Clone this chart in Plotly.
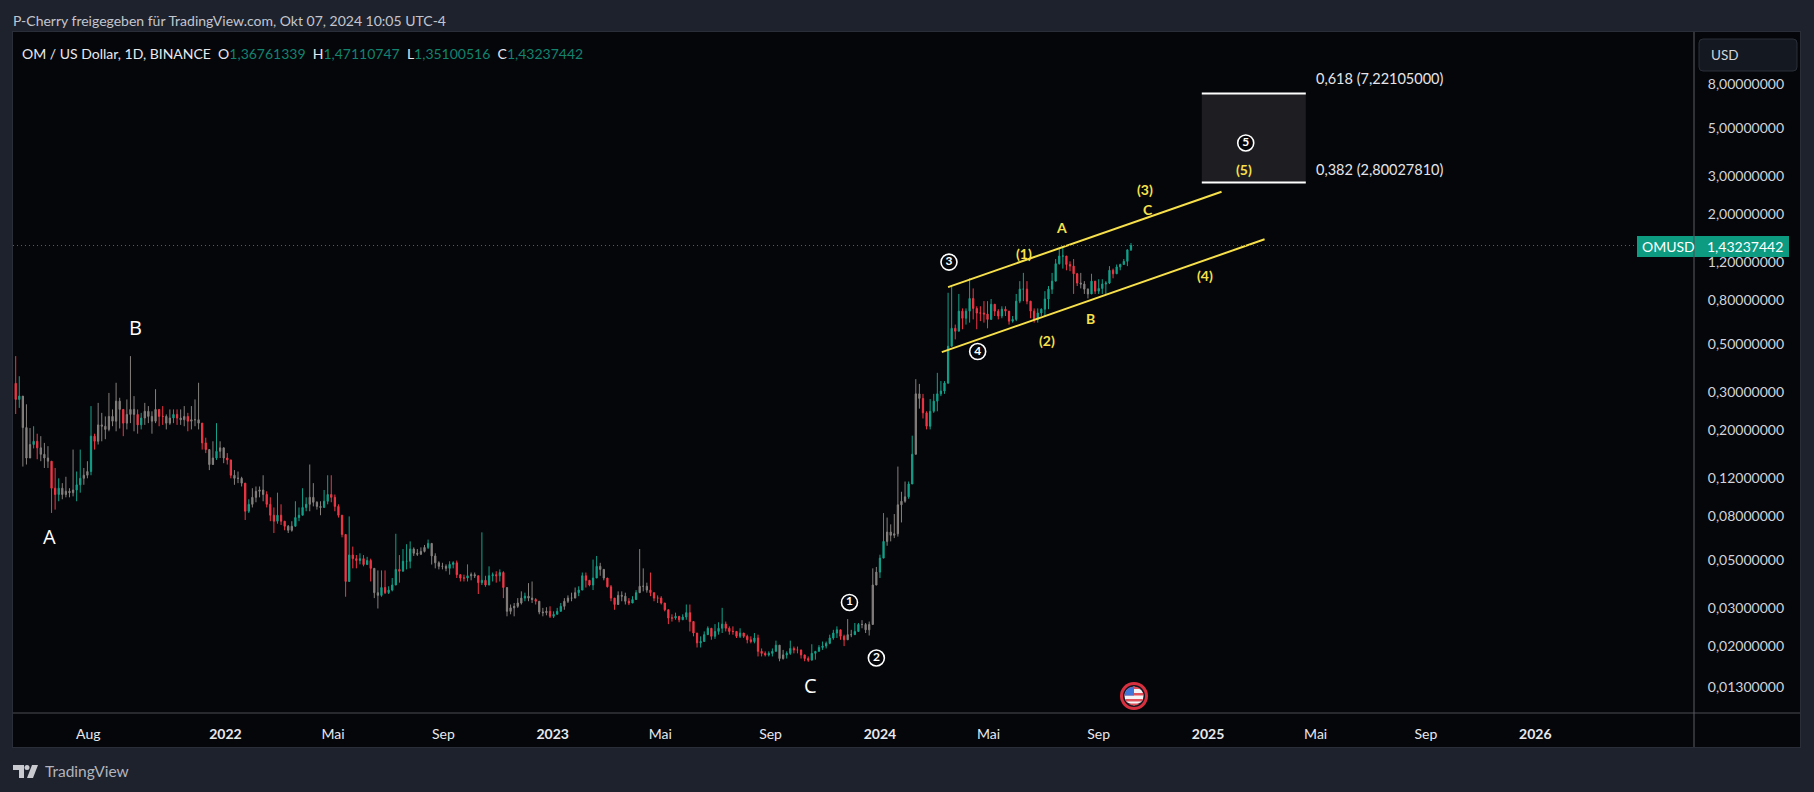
import math
import pandas as pd
import plotly.graph_objects as go

# ---------- data (4-day sampling of the daily series) ----------
highs = [
 .441,.356,.273,.264,.205,.209,.193,.188,.175,.169,
 .138,.134,.120,.114,.122,.108,.163,.129,.163,.134,
 .144,.259,.193,.268,.241,.232,.298,.25,.332,.283,
 .25,.278,.441,.288,.25,.241,.268,.259,.245,.31,
 .25,.259,.237,.25,.25,.25,.25,.259,.241,.259,
 .278,.332,.209,.185,.160,.178,.216,.178,.166,.157,
 .139,.131,.129,.122,.112,.096,.108,.110,.110,.124,
 .1045,.098,.088,.103,.091,.076,.073,.076,.094,.088,
 .108,.098,.139,.114,.094,.094,.106,.124,.124,.101,
 .091,.080,.064,.080,.058,.053,.054,.053,.052,.051,
 .0405,.045,.045,.045,.038,.0415,.0665,.053,.0565,.0595,
 .0613,.0575,.0565,.0575,.059,.0625,.059,.054,.0496,.0488,
 .048,.0496,.0496,.05,.043,.043,.048,.044,.044,.0425,
 .0675,.0425,.047,.044,.0446,.0455,.0446,.0342,.0313,.0318,
 .0335,.036,.0355,.0393,.04,.0335,.0324,.0302,.0304,.0307,
 .0291,.0302,.0318,.0335,.0345,.0355,.0375,.038,.044,.044,
 .0405,.0505,.0525,.0488,.0455,.0415,.0385,.0324,.036,.036,
 .0355,.0335,.0342,.0365,.0565,.046,.0395,.044,.0355,.0345,
 .0342,.0318,.0296,.0282,.0287,.0276,.0282,.0313,.0313,.0254,
 .0231,.0223,.0235,.0248,.0243,.0254,.0259,.0302,.0261,.0248,
 .0248,.0235,.0243,.0231,.0227,.0223,.0231,.0227,.0196,.019,
 .019,.0196,.0213,.0193,.0193,.019,.0213,.02,.02,.0186,
 .0183,.018,.0205,.0186,.0203,.0211,.0211,.0227,.0239,.0248,
 .0235,.0227,.0268,.0239,.0257,.0257,.0265,.0257,.0261,.046,
 .0467,.0532,.0829,.079,.0735,.082,.136,.104,.116,.116,
 .189,.345,.328,.295,.245,.279,.295,.369,.338,.338,
 .866,.93,.617,.855,.733,.733,1.01,.907,.75,.75,
 .792,.792,.81,.766,.727,.75,.75,.69,.676,.855,
 .98,1.07,.98,.792,.733,.733,.733,.881,.93,1.07,
 1.24,1.40,1.40,1.25,1.21,1.24,1.07,1.07,.98,.907,
 1.06,.93,1.0,1.0,.98,1.15,1.12,1.17,1.18,1.24,
 1.37,1.47110747,
]
lows = [
 .238,.254,.136,.139,.152,.165,.147,.144,.134,.134,
 .083,.086,.094,.096,.098,.098,.099,.094,.103,.112,
 .120,.124,.163,.172,.178,.182,.198,.209,.198,.204,
 .188,.202,.216,.198,.193,.202,.212,.216,.193,.216,
 .209,.212,.202,.212,.216,.212,.212,.209,.198,.202,
 .209,.202,.163,.157,.131,.139,.146,.149,.141,.139,
 .120,.112,.114,.110,.077,.083,.088,.093,.098,.094,
 .088,.076,.067,.074,.073,.069,.067,.068,.072,.076,
 .081,.0845,.0845,.089,.086,.081,.089,.091,.093,.0845,
 .079,.064,.034,.042,.046,.046,.048,.047,.0479,.04,
 .0335,.030,.034,.035,.035,.036,.0385,.0395,.046,.0455,
 .046,.0525,.0525,.053,.0545,.0565,.0479,.046,.0455,.0455,
 .0446,.043,.046,.0415,.04,.04,.04,.0405,.0415,.035,
 .0385,.0378,.0385,.04,.0395,.04,.0335,.0276,.0282,.0276,
 .0302,.0313,.0324,.0324,.0318,.0313,.0282,.0276,.0279,.0271,
 .0271,.0282,.0291,.0296,.0318,.0324,.0335,.0342,.038,.0375,
 .038,.0365,.0415,.0425,.0405,.0375,.0324,.0296,.0318,.0324,
 .0313,.0311,.0318,.033,.0355,.036,.0355,.0342,.0324,.0318,
 .0313,.0291,.0254,.0261,.0266,.0259,.0266,.0266,.0235,.0223,
 .0198,.0198,.0211,.0227,.0215,.0217,.0227,.0231,.0235,.0227,
 .0227,.0219,.0219,.0219,.0207,.0207,.0207,.018,.018,.018,
 .018,.018,.019,.0171,.0174,.0176,.0183,.0186,.0186,.0176,
 .0171,.017,.0176,.0174,.019,.0193,.0196,.0205,.0215,.0219,
 .0215,.0201,.0219,.0221,.0227,.0239,.0243,.0231,.0225,.0253,
 .0385,.0415,.0532,.0585,.0613,.0635,.0645,.075,.0925,.0965,
 .144,.198,.252,.227,.202,.202,.241,.245,.288,.295,
 .328,.533,.527,.587,.587,.617,.63,.652,.587,.64,
 .63,.593,.69,.676,.652,.66,.676,.617,.63,.64,
 .775,.792,.766,.66,.63,.63,.676,.676,.727,.855,
 .98,1.17,1.12,1.10,1.09,.855,.93,.907,.855,.815,
 .855,.855,.855,.855,.855,.95,1.01,1.06,1.1,1.17,
 1.15,1.35100516,
]
closes = [
 .278,.288,.206,.149,.172,.178,.166,.155,.149,.144,
 .108,.101,.108,.101,.1045,.103,.106,.112,.120,.124,
 .129,.188,.178,.212,.209,.202,.232,.2205,.273,.25,
 .216,.237,.25,.237,.212,.228,.245,.232,.2205,.25,
 .232,.232,.216,.228,.237,.228,.224,.232,.2205,.224,
 .224,.216,.175,.163,.139,.149,.160,.166,.149,.146,
 .124,.120,.120,.114,.0845,.091,.098,.1045,.106,.101,
 .091,.081,.076,.081,.076,.072,.069,.072,.079,.081,
 .088,.091,.098,.093,.089,.088,.094,.101,.098,.089,
 .081,.066,.04,.053,.051,.050,.051,.0479,.050,.046,
 .0355,.0345,.0375,.0355,.0365,.0385,.0455,.0446,.0496,.0496,
 .0565,.054,.0535,.0551,.0575,.06,.0525,.0488,.047,.047,
 .046,.048,.0488,.043,.0415,.0415,.0425,.043,.0425,.0395,
 .0405,.0385,.0425,.043,.0425,.044,.0375,.0291,.0302,.0307,
 .0318,.0335,.0342,.0335,.033,.0324,.0289,.0287,.0291,.0276,
 .0282,.0291,.0307,.0324,.0335,.0335,.0355,.0365,.0425,.0405,
 .0385,.0415,.047,.0455,.0415,.0378,.0335,.0313,.0345,.0342,
 .0324,.0318,.033,.0355,.038,.038,.0365,.0355,.0335,.0335,
 .0318,.0296,.0271,.0271,.0276,.0266,.0274,.0287,.0261,.0231,
 .0208,.0211,.0227,.0243,.0223,.0235,.0243,.0254,.0243,.0235,
 .0235,.0223,.0231,.0223,.0215,.0211,.0219,.019,.0186,.0183,
 .0186,.019,.0203,.0176,.0183,.0186,.0196,.0193,.0193,.0183,
 .0176,.0173,.0186,.019,.0198,.0201,.0207,.0219,.0231,.0239,
 .0223,.0215,.0227,.0227,.0235,.0253,.0253,.0239,.0253,.0385,
 .0442,.0513,.0613,.0677,.0654,.0665,.0905,.094,.0985,.113,
 .155,.295,.281,.241,.209,.245,.273,.295,.304,.331,
 .49,.593,.575,.712,.66,.712,.815,.733,.698,.698,
 .69,.652,.766,.712,.676,.727,.712,.64,.652,.792,
 .9,.9,.792,.712,.652,.698,.727,.81,.9,.98,
 1.18,1.28,1.28,1.17,1.15,1.06,.96,.95,.9,.855,
 .98,.881,.907,.95,.96,1.1,1.06,1.14,1.17,1.21,
 1.36761339,1.43237442,
]
first_open = 0.33
last_bar_date = "2024-10-07"

# candle ordinals drawn in the muted grey of the reference's dense stretches
grey_spans = [(2,4),(7,9),(13,16),(19,20),(23,29),(31,33),(36,39),(42,43),(46,47),(49,51),
              (54,55),(57,58),(61,63),(66,69),(76,77),(82,85),(100,101),(111,114),(116,120),
              (127,128),(137,141),(143,144),(146,148),(153,156),(163,164),(168,170),(174,176),
              (213,214),(232,233),(236,238),(239,240),(243,245),(246,248),(251,252),(297,299)]

y_tick_values = [8,5,3,2,1.2,.8,.5,.3,.2,.12,.08,.05,.03,.02,.013]
y_tick_labels = ["8,00000000","5,00000000","3,00000000","2,00000000","1,20000000","0,80000000",
                 "0,50000000","0,30000000","0,20000000","0,12000000","0,08000000","0,05000000",
                 "0,03000000","0,02000000","0,01300000"]
x_tick_dates = ["2021-08-01","2022-01-01","2022-05-01","2022-09-01","2023-01-01","2023-05-01",
                "2023-09-01","2024-01-01","2024-05-01","2024-09-01","2025-01-01","2025-05-01",
                "2025-09-01","2026-01-01"]
x_tick_labels = ["Aug","<b>2022</b>","Mai","Sep","<b>2023</b>","Mai","Sep","<b>2024</b>","Mai","Sep",
                 "<b>2025</b>","Mai","Sep","<b>2026</b>"]

white_labels = [("A","2021-06-19",.0646),("B","2021-09-23",.60),("C","2023-10-16",.0132)]
circle_digits = ["1","2","3","4","5"]
circle_dates = ["2023-11-28","2023-12-28","2024-03-18","2024-04-19","2025-02-12"]
circle_prices = [.032,.0177,1.2,.463,4.27]
yellow_labels = [("(1)","2024-06-10",1.32),("(2)","2024-07-05",.523),("(3)","2024-10-23",2.59),
                 ("(4)","2024-12-29",1.04),("(5)","2025-02-10",3.23),("A","2024-07-22",1.74),
                 ("B","2024-08-23",.66),("C","2024-10-26",2.11)]

channel_upper = (("2024-03-17",.92),("2025-01-16",2.54))
channel_lower = (("2024-03-10",.46),("2025-03-05",1.53))
fib_dates = ("2024-12-25","2025-04-20")
fib_618 = 7.22105
fib_382 = 2.8002781
last_price = 1.43237442

# ---------- style ----------
W, H = 1814, 792
PL, PR, PT, PB = 13, 1694, 32, 713
BG, PANEL = "#1e222d", "#050609"
UP, DOWN, GREY = "#12a18a", "#f23645", "#85807e"
YEL = "#f7e04b"
FONT = "Lato, 'Open Sans', sans-serif"
px = lambda x: (x - PL) / (PR - PL)
py = lambda y: (PB - y) / (PB - PT)

n = len(closes)
opens = [first_open] + closes[:-1]
highs = [max(h, o, c) for h, o, c in zip(highs, opens, closes)]
lows = [min(l, o, c) for l, o, c in zip(lows, opens, closes)]
dates = pd.date_range(end=last_bar_date, periods=n, freq="4D")
grey = set(i for a, b in grey_spans for i in range(a, b + 1))

fig = go.Figure()
def add_candles(idx, inc, dec):
    fig.add_trace(go.Candlestick(
        x=[dates[i] for i in idx], open=[opens[i] for i in idx], high=[highs[i] for i in idx],
        low=[lows[i] for i in idx], close=[closes[i] for i in idx],
        increasing=dict(line=dict(color=inc, width=1), fillcolor=inc),
        decreasing=dict(line=dict(color=dec, width=1), fillcolor=dec),
        whiskerwidth=0, showlegend=False, hoverinfo="skip"))
add_candles([i for i in range(n) if i not in grey], UP, DOWN)
add_candles(sorted(grey), GREY, GREY)

# circled wave numbers
fig.add_trace(go.Scatter(
    x=circle_dates, y=circle_prices, mode="markers+text", text=[f"<b>{d}</b>" for d in circle_digits],
    textposition="middle center", textfont=dict(size=12, color="#ffffff", family=FONT),
    marker=dict(size=16, color="#050609", line=dict(color="#ffffff", width=1.6)),
    showlegend=False, hoverinfo="skip"))

shapes, ann = [], []
def pshape(**k):
    k.setdefault("xref", "paper"); k.setdefault("yref", "paper")
    shapes.append(k)
def ptext(x, y, text, size=13, color="#d1d4dc", anchor="left", yanchor="middle", family=FONT):
    ann.append(dict(xref="paper", yref="paper", x=px(x), y=py(y), text=text, showarrow=False,
                    xanchor=anchor, yanchor=yanchor, align=anchor, xshift=0,
                    font=dict(size=size, color=color, family=family)))
def dtext(date, price, text, size, color, family=FONT):
    ann.append(dict(x=date, y=math.log10(price), text=text, showarrow=False, xanchor="center",
                    yanchor="middle", font=dict(size=size, color=color, family=family)))

# panels behind the plot
pshape(type="rect", x0=px(12), x1=px(1801), y0=py(748), y1=py(31), fillcolor="#2a2e39", line_width=0, layer="below")
pshape(type="rect", x0=px(PL), x1=px(1800), y0=py(747), y1=py(32), fillcolor=PANEL, line_width=0, layer="below")
# axis separators
pshape(type="line", x0=px(PL), x1=px(1800), y0=py(PB), y1=py(PB), line=dict(color="#4a4d55", width=1))
pshape(type="line", x0=px(PR), x1=px(PR), y0=py(32), y1=py(747), line=dict(color="#5a5d65", width=1))

# fib box + channel lines
shapes.append(dict(type="rect", x0=fib_dates[0], x1=fib_dates[1], y0=fib_382, y1=fib_618,
                   xref="x", yref="y", fillcolor="#1e1e22", line_width=0, layer="below"))
for v in (fib_618, fib_382):
    shapes.append(dict(type="line", x0=fib_dates[0], x1=fib_dates[1], y0=v, y1=v,
                       xref="x", yref="y", line=dict(color="#ffffff", width=2)))
for (a, b) in (channel_upper, channel_lower):
    shapes.append(dict(type="line", x0=a[0], x1=b[0], y0=a[1], y1=b[1],
                       xref="x", yref="y", line=dict(color=YEL, width=2)))

# last price line and tag
shapes.append(dict(type="line", xref="paper", x0=0, x1=px(1637), yref="y",
                   y0=last_price, y1=last_price,
                   line=dict(color="#0e7e6c", width=1, dash="1px,3px")))
pshape(type="rect", x0=px(1637), x1=px(1789), y0=py(257), y1=py(236), fillcolor="#0d9b82", line_width=0)
pshape(type="line", x0=px(PR), x1=px(PR), y0=py(236), y1=py(257), line=dict(color="#4a4d55", width=1))
ptext(1640, 246.5, "OMUSD", 14, "#ffffff")
ptext(1705, 246.5, "1,43237442", 14, "#ffffff")

# USD button
x0, x1, y0, y1, r = px(1699), px(1797), py(71), py(39), 4 / (PR - PL)
ry = 4 / (PB - PT)
pshape(type="path", path=f"M{x0+r},{y0} L{x1-r},{y0} Q{x1},{y0} {x1},{y0+ry} L{x1},{y1-ry} Q{x1},{y1} {x1-r},{y1} "
                         f"L{x0+r},{y1} Q{x0},{y1} {x0},{y1-ry} L{x0},{y0+ry} Q{x0},{y0} {x0+r},{y0} Z",
       fillcolor="#141821", line=dict(color="#2a2e39", width=1))
ptext(1709, 54.5, "USD", 13.5, "#d1d4dc")

# header / legend / footer text
ptext(11, 20, "P-Cherry freigegeben für TradingView.com, Okt 07, 2024 10:05 UTC-4", 14, "#c3c6ce")
g = lambda s: f"<span style='color:#12836f'>{s}</span>"
sep = "&nbsp;&nbsp;"
ptext(20, 53, "OM / US Dollar, 1D, BINANCE" + sep + "O" + g("1,36761339") + sep + "H" + g("1,47110747") +
      sep + "L" + g("1,35100516") + sep + "C" + g("1,43237442"), 14, "#e8e9ee")
ptext(43, 771, "TradingView", 15.5, "#b2b5be")

# TradingView logo
def P(pts):
    return "M" + " L".join(f"{px(x)},{py(y)}" for x, y in pts) + " Z"
logo = "#c8cad0"
pshape(type="path", path=P([(13,765),(24,765),(24,778),(19,778),(19,770),(13,770)]), fillcolor=logo, line_width=0)
pshape(type="path", path=P([(32,765),(38,765),(33,778),(27,778)]), fillcolor=logo, line_width=0)
pshape(type="circle", x0=px(24.5), x1=px(29.5), y0=py(770), y1=py(765), fillcolor=logo, line_width=0)

# event flag
cx, cy, rr = 1134, 696, 9.5
pshape(type="circle", x0=px(cx-14), x1=px(cx+14), y0=py(cy+14), y1=py(cy-14), fillcolor="#d9303f", line_width=0)
pshape(type="circle", x0=px(cx-11), x1=px(cx+11), y0=py(cy+11), y1=py(cy-11), fillcolor="#131722", line_width=0)
def band(y_a, y_b, xmax=None):
    pts = []
    steps = 6
    ys = [y_a + (y_b - y_a) * k / steps for k in range(steps + 1)]
    for yy in ys:
        dx = math.sqrt(max(rr**2 - yy**2, 0))
        pts.append((cx + (min(dx, xmax) if xmax is not None else dx), cy + yy))
    for yy in reversed(ys):
        pts.append((cx - math.sqrt(max(rr**2 - yy**2, 0)), cy + yy))
    return P(pts)
pshape(type="path", path=band(-9.5, 9.5), fillcolor="#f4f4f6", line_width=0)
for a, b in ((-9.5,-7),(-3,-0.5),(3,5.5),(7.5,9.5)):
    pshape(type="path", path=band(a, b), fillcolor="#e0505a", line_width=0)
pshape(type="path", path=band(-9.5, -0.5, xmax=0), fillcolor="#3f74d8", line_width=0)

# wave labels
for t, d, p in white_labels:
    dtext(d, p, f"<b>{t}</b>" if False else t, 20, "#ffffff", family="'Open Sans', sans-serif")
for t, d, p in yellow_labels:
    dtext(d, p, f"<b>{t}</b>", 14, YEL)
ptext(1314, 79, "0,618 (7,22105000)", 14.5, "#e4e5ea")
ptext(1314, 169, "0,382 (2,80027810)", 14.5, "#e4e5ea")

fig.update_layout(
    width=W, height=H, margin=dict(l=PL, r=W-PR, t=PT, b=H-PB), autosize=False,
    paper_bgcolor=BG, plot_bgcolor="rgba(0,0,0,0)", showlegend=False, boxgap=0.5,
    font=dict(family=FONT, color="#d1d4dc"), shapes=shapes, annotations=ann,
    xaxis=dict(type="date", range=["2021-05-09","2026-06-27"], rangeslider=dict(visible=False),
               tickmode="array", tickvals=x_tick_dates, ticktext=x_tick_labels, showgrid=False, zeroline=False,
               ticks="outside", ticklen=8, tickcolor="rgba(0,0,0,0)", showline=False,
               tickfont=dict(size=14, color="#e8e9ee", family=FONT)),
    yaxis=dict(type="log", range=[-2.0063,1.1436], side="right", tickmode="array", tickvals=y_tick_values,
               ticktext=y_tick_labels, showgrid=False, zeroline=False, showline=False,
               ticks="outside", ticklen=10, tickcolor="rgba(0,0,0,0)",
               tickfont=dict(size=14, color="#d1d4dc", family=FONT)),
)
fig.write_html("out.html", config=dict(displayModeBar=False),
               post_script="document.body.style.margin='0';document.body.style.background='#1e222d';")
